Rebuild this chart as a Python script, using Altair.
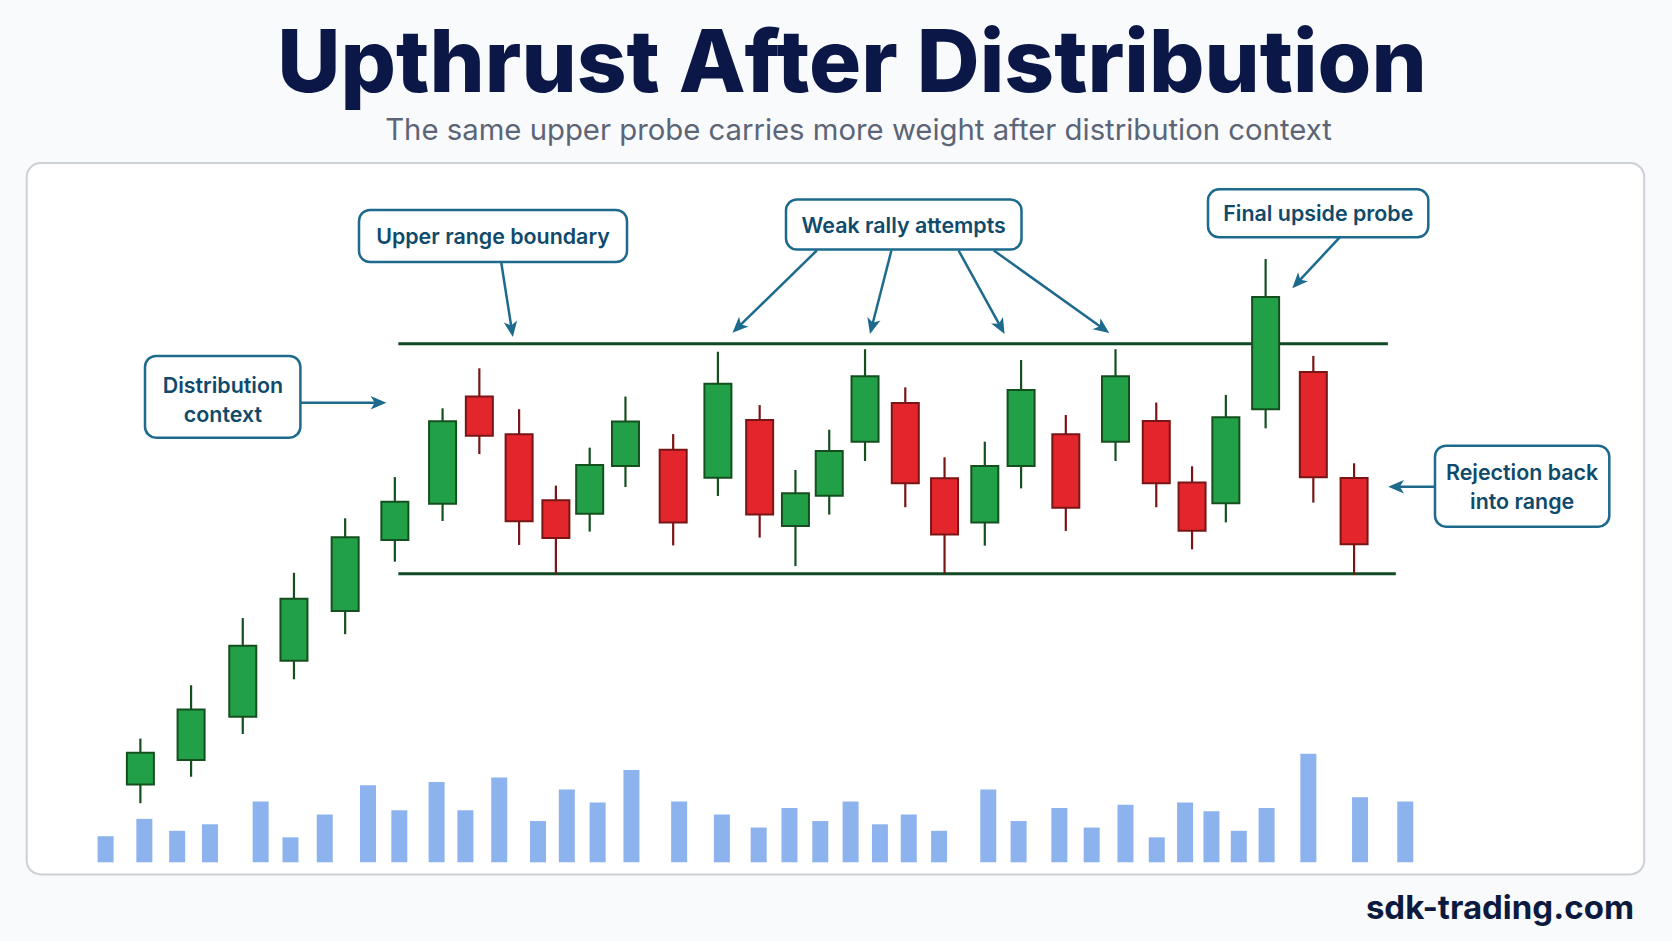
import math
import numpy as np
import pandas as pd
import altair as alt

W, H = 1672, 941

# ---------------- data ----------------
candle_t = [3.6, 8.7, 13.9, 19.05, 24.2, 29.2, 34.0, 37.7, 41.7, 45.4,
            48.8, 52.4, 57.2, 61.7, 65.9, 69.5, 72.9, 76.5, 80.55, 84.5,
            88.55, 92.2, 96.7, 101.7, 105.8, 109.4, 112.8, 116.8, 121.6, 125.7]
opens = [90.83, 91.90, 93.78, 96.22, 98.38, 101.47, 103.04, 107.70, 106.06, 103.19,
         102.61, 104.68, 105.39, 104.17, 106.68, 102.07, 103.39, 105.74, 107.42, 104.15,
         102.23, 104.68, 106.06, 105.74, 106.64, 103.97, 103.06, 107.15, 108.77, 104.16]
highs = [92.83, 95.15, 98.07, 100.04, 102.41, 104.20, 107.19, 108.93, 107.15, 103.83,
         105.48, 107.70, 106.07, 109.65, 107.33, 104.51, 106.26, 109.76, 108.10, 105.06,
         105.74, 109.29, 106.90, 109.76, 107.44, 104.67, 107.77, 113.68, 109.47, 104.80]
lows = [90.02, 91.17, 93.03, 95.41, 97.37, 100.52, 102.29, 105.20, 101.25, 100.00,
        101.83, 103.77, 101.23, 103.38, 101.57, 100.33, 102.57, 104.90, 102.89, 100.00,
        101.22, 103.71, 101.86, 104.90, 102.89, 101.06, 102.23, 106.32, 103.09, 99.94]
closes = [92.22, 94.10, 96.87, 98.91, 101.58, 103.13, 106.63, 106.00, 102.28, 101.55,
          104.73, 106.62, 102.23, 108.26, 102.57, 103.50, 105.33, 108.58, 103.93, 101.70,
          104.68, 107.99, 102.87, 108.58, 103.93, 101.87, 106.80, 112.03, 104.19, 101.28]

vol_t = [0.1, 4.0, 7.3, 10.6, 15.7, 18.7, 22.15, 26.5, 29.65, 33.4,
         36.3, 39.7, 43.6, 46.5, 49.6, 53.0, 57.8, 62.1, 65.8, 68.9,
         72.0, 75.05, 78.0, 80.9, 83.95, 88.9, 91.95, 96.05, 99.3, 102.7,
         105.85, 108.7, 111.35, 114.1, 116.9, 121.1, 126.3, 130.85]
volumes = [24, 40, 29, 35, 56, 23, 44, 71, 48, 74,
           48, 78, 38, 67, 55, 85, 56, 44, 32, 50,
           38, 56, 35, 44, 29, 67, 38, 50, 32, 53,
           23, 55, 47, 29, 50, 100, 60, 56]

range_levels = [110.0, 100.0]
range_start_t = [29.55, 29.55]
range_end_t = [129.1, 129.9]

title = "Upthrust After Distribution"
subtitle = "The same upper probe carries more weight after distribution context"
footer = "sdk-trading.com"

# annotation callouts (layout, in pixels)
box_x1 = [359, 786, 1208, 145, 1435]
box_y1 = [210, 199.5, 189.3, 356, 445.7]
box_x2 = [627, 1021.5, 1428.3, 300.4, 1609.3]
box_y2 = [262, 249.5, 237.3, 437.7, 526.7]
label_x = [493, 903.7, 1318.3, 222.9, 222.9, 1522.1, 1522.1]
label_y = [244.3, 232.5, 221.3, 392.7, 422.3, 480, 509]
label_text = ["Upper range boundary", "Weak rally attempts", "Final upside probe",
              "Distribution", "context", "Rejection back", "into range"]
arrow_x1 = [501.2, 816.8, 891.4, 958.6, 993.8, 1339.7, 300.4, 1434.9]
arrow_y1 = [262.3, 250.5, 250.5, 250.5, 250.5, 237.3, 402.7, 486.7]
arrow_x2 = [512.9, 732.5, 870.0, 1004.6, 1109.3, 1292.3, 386.4, 1388.2]
arrow_y2 = [337.0, 332.7, 334.0, 334.0, 333.0, 288.3, 402.7, 486.7]

# ---------------- tables ----------------
cdf = pd.DataFrame({"t": candle_t, "open": opens, "high": highs, "low": lows, "close": closes})
cdf["dir"] = np.where(cdf["close"] >= cdf["open"], "up", "down")
vdf = pd.DataFrame({"t": vol_t, "vol": volumes})
rdf = pd.DataFrame({"level": range_levels, "t0": range_start_t, "t1": range_end_t})

x_scale = alt.Scale(domain=[-10.02, 157.18], nice=False, zero=False)
p_scale = alt.Scale(domain=[84.03, 124.943], nice=False, zero=False)
v_scale = alt.Scale(domain=[-72.47, 794.0], nice=False, zero=False)

fill_scale = alt.Scale(domain=["up", "down"], range=["#22a047", "#e3262c"])
stroke_scale = alt.Scale(domain=["up", "down"], range=["#14501f", "#7a1516"])

lines = alt.Chart(rdf).mark_rule(strokeWidth=3, color="#0f4a24").encode(
    x=alt.X("t0:Q", scale=x_scale, axis=None), x2="t1:Q",
    y=alt.Y("level:Q", scale=p_scale, axis=None))

wicks = alt.Chart(cdf).mark_rule(strokeWidth=2.2).encode(
    x=alt.X("t:Q", scale=x_scale, axis=None),
    y=alt.Y("low:Q", scale=p_scale, axis=None), y2="high:Q",
    stroke=alt.Stroke("dir:N", scale=stroke_scale, legend=None))

bodies = alt.Chart(cdf).mark_bar(size=27, strokeWidth=2).encode(
    x=alt.X("t:Q", scale=x_scale, axis=None),
    y=alt.Y("open:Q", scale=p_scale, axis=None), y2="close:Q",
    fill=alt.Fill("dir:N", scale=fill_scale, legend=None),
    stroke=alt.Stroke("dir:N", scale=stroke_scale, legend=None))

vol = alt.Chart(vdf).mark_bar(size=16, color="#8db3ef").encode(
    x=alt.X("t:Q", scale=x_scale, axis=None),
    y=alt.Y("vol:Q", scale=v_scale, axis=None), y2=alt.datum(0))

price_group = alt.layer(lines, wicks, bodies)
data_group = alt.layer(vol, price_group).resolve_scale(y="independent")

# panel
panel = alt.Chart(pd.DataFrame({"x1": [26.7], "x2": [1644.2], "y1": [163.1], "y2": [874.4]})).mark_rect(
    cornerRadius=14, fill="white", stroke="#cdd0d4", strokeWidth=2).encode(
    x=alt.X("x1:Q", scale=None, axis=None), x2="x2:Q",
    y=alt.Y("y1:Q", scale=None, axis=None), y2="y2:Q")

# callouts
bdf = pd.DataFrame({"x1": box_x1, "y1": box_y1, "x2": box_x2, "y2": box_y2})
boxes = alt.Chart(bdf).mark_rect(cornerRadius=11, fill="white", stroke="#1d6a8d", strokeWidth=2.5).encode(
    x=alt.X("x1:Q", scale=None, axis=None), x2="x2:Q",
    y=alt.Y("y1:Q", scale=None, axis=None), y2="y2:Q")

ldf = pd.DataFrame({"x": label_x, "y": label_y, "text": label_text})
labels = alt.Chart(ldf).mark_text(font="Inter", fontSize=21.4, fontWeight=600, color="#0f4a6b",
                                  align="center", baseline="alphabetic").encode(
    x=alt.X("x:Q", scale=None, axis=None), y=alt.Y("y:Q", scale=None, axis=None), text="text:N")

head_r = 9.0
hx, hy, ang, rx2, ry2 = [], [], [], [], []
for x1, y1, x2, y2 in zip(arrow_x1, arrow_y1, arrow_x2, arrow_y2):
    dx, dy = x2 - x1, y2 - y1
    L = math.hypot(dx, dy)
    ux, uy = dx / L, dy / L
    cx, cy = x2 - ux * head_r, y2 - uy * head_r
    hx.append(cx)
    hy.append(cy)
    ang.append(math.degrees(math.atan2(dx, -dy)) % 360)
    rx2.append(cx)
    ry2.append(cy)

adf = pd.DataFrame({"x1": arrow_x1, "y1": arrow_y1, "x2": rx2, "y2": ry2})
arrows = alt.Chart(adf).mark_rule(stroke="#1d6a8d", strokeWidth=2.5).encode(
    x=alt.X("x1:Q", scale=None, axis=None), x2="x2:Q",
    y=alt.Y("y1:Q", scale=None, axis=None), y2="y2:Q")

hdf = pd.DataFrame({"x": hx, "y": hy, "angle": ang})
heads = alt.Chart(hdf).mark_point(shape="M0,-1L0.75,0.75L0,0.3L-0.75,0.75Z", filled=True,
                                  size=324, color="#1d6a8d", opacity=1, strokeWidth=0).encode(
    x=alt.X("x:Q", scale=None, axis=None), y=alt.Y("y:Q", scale=None, axis=None),
    angle=alt.Angle("angle:Q", scale=None))

# titles
tdf = pd.DataFrame({"x": [852], "y": [91.7], "text": [title]})
title_mark = alt.Chart(tdf).mark_text(font="Inter", fontSize=87, fontWeight=800, color="#0b1847",
                                      align="center", baseline="alphabetic").encode(
    x=alt.X("x:Q", scale=None, axis=None), y=alt.Y("y:Q", scale=None, axis=None), text="text:N")

sdf = pd.DataFrame({"x": [858.5], "y": [140], "text": [subtitle]})
sub_mark = alt.Chart(sdf).mark_text(font="Inter", fontSize=29.3, fontWeight=400, color="#5b6577",
                                    align="center", baseline="alphabetic").encode(
    x=alt.X("x:Q", scale=None, axis=None), y=alt.Y("y:Q", scale=None, axis=None), text="text:N")

fdf = pd.DataFrame({"x": [1634], "y": [919], "text": [footer]})
foot_mark = alt.Chart(fdf).mark_text(font="Inter", fontSize=33, fontWeight=700, color="#0d1a40",
                                     align="right", baseline="alphabetic").encode(
    x=alt.X("x:Q", scale=None, axis=None), y=alt.Y("y:Q", scale=None, axis=None), text="text:N")

chart = alt.layer(panel, data_group, arrows, heads, boxes, labels, title_mark, sub_mark, foot_mark).resolve_scale(
    x="independent", y="independent"
).properties(
    width=W, height=H, padding=0,
    autosize=alt.AutoSizeParams(type="none"),
    background="#f9fafb",
).configure_view(stroke=None)

chart.save("out.html", embed_options={"renderer": "svg", "actions": False})
